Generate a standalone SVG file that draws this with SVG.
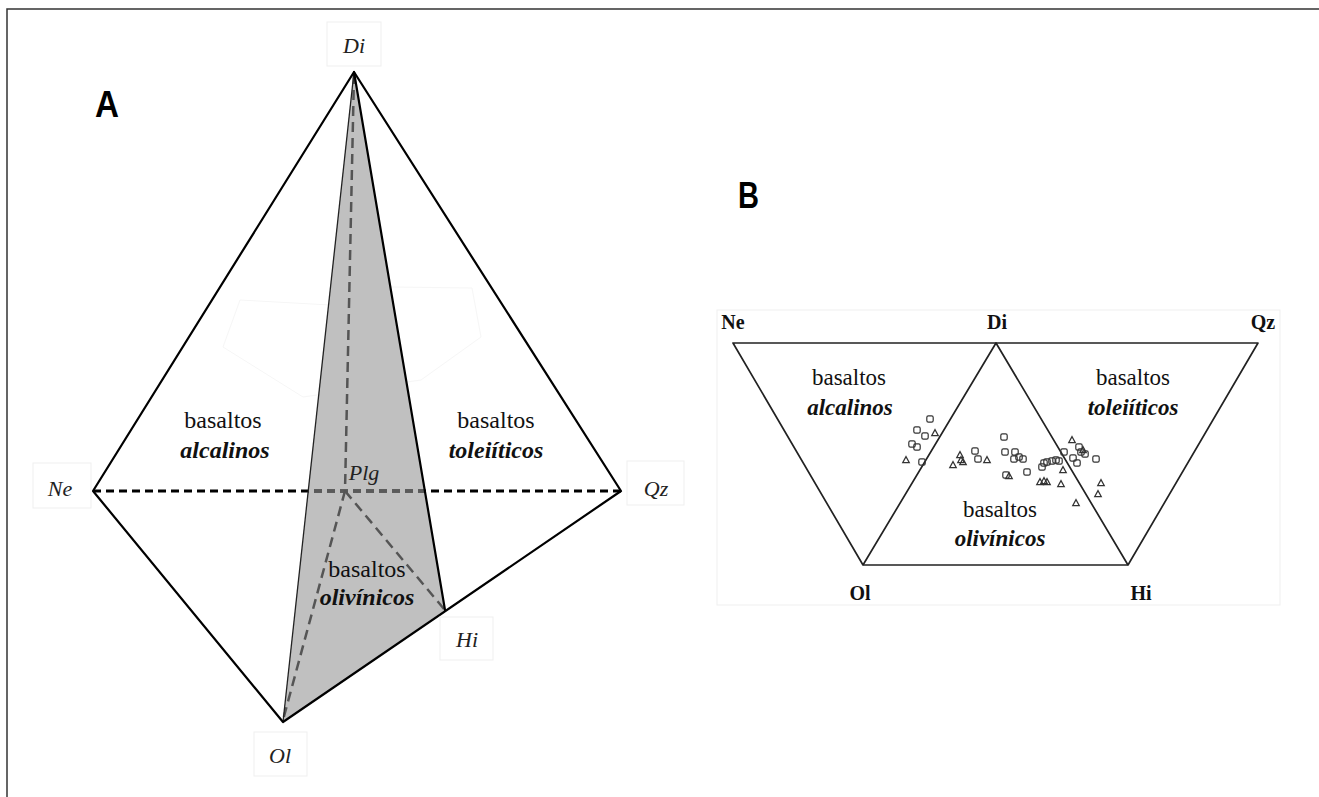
<svg xmlns="http://www.w3.org/2000/svg" xmlns:xlink="http://www.w3.org/1999/xlink" width="1319" height="797" viewBox="0 0 1319 797">
<style>
  .frame{fill:none;stroke:#333;stroke-width:1.5}
  .faint{fill:none;stroke:#efefef;stroke-width:1}
  .edgeA{fill:none;stroke:#000;stroke-width:2.2;stroke-linejoin:round;stroke-linecap:round}
  .edgeThin{fill:none;stroke:#222;stroke-width:1.3}
  .dashK{fill:none;stroke:#000;stroke-width:3;stroke-dasharray:8 5}
  .dashG{fill:none;stroke:#555;stroke-width:2.5;stroke-dasharray:10 6}
  .dashGK{fill:none;stroke:#5a5a5a;stroke-width:3;stroke-dasharray:8 5}
  .edgeB{fill:none;stroke:#222;stroke-width:1.7;stroke-linejoin:round}
  .lblA{font-family:"Liberation Serif","Times New Roman",serif;font-style:italic;font-size:22px;fill:#222;text-anchor:middle}
  .lblB{font-family:"Liberation Serif","Times New Roman",serif;font-weight:bold;font-size:20px;fill:#111;text-anchor:middle}
  .reg{font-family:"Liberation Serif","Times New Roman",serif;fill:#111;text-anchor:middle}
  .bi{font-family:"Liberation Serif","Times New Roman",serif;font-weight:bold;font-style:italic;fill:#111;text-anchor:middle}
  .big{font-family:"Liberation Sans",Arial,sans-serif;font-weight:bold;fill:#000}
  .pt{fill:none;stroke:#333;stroke-width:1.2}
</style>
<defs>
  <rect id="sq" x="-3.2" y="-3.2" width="6.4" height="6.4" rx="1.6" class="pt"/>
  <path id="tri" d="M0,-3.4 L3.3,2.7 L-3.3,2.7 Z" class="pt"/>
  <clipPath id="grayClip">
    <polygon points="354,72 283,722 445,610"/>
  </clipPath>
</defs>

<!-- outer frame (top and left only) -->
<path class="frame" d="M7,797 L7,9 L1319,9"/>

<!-- faint background artefacts -->
<g id="faint-shapes">
  <polygon points="240,300 330,305 391,287 472,288 481,337 421,380 303,397 223,347" fill="none" stroke="#f6f6f6" stroke-width="1"/>
  <rect class="faint" x="717" y="310" width="563" height="295"/>
</g>

<!-- Panel A -->
<g id="panelA">
  <g id="gray-plane">
    <polygon points="354,72 283,722 445,610" fill="#c0c0c0" stroke="none"/>
  </g>
  <g id="connectors-A">
    <path class="dashK" d="M93,491 L621,491"/>
    <path class="dashGK" d="M93,491 L621,491" clip-path="url(#grayClip)"/>
    <path class="dashG" d="M354,74 L345,491"/>
    <path class="dashG" d="M345,491 L283,720"/>
    <path class="dashG" d="M345,491 L444,609"/>
    <path class="edgeThin" d="M354,72 L283,722"/>
    <path class="edgeA" d="M354,72 L445,610" stroke-width="1.8"/>
    <path class="edgeA" d="M354,72 L93,491 L283,722 L621,491 Z"/>
  </g>
  <g id="node-Di"><rect class="faint" x="327" y="22" width="54" height="44"/><text class="lblA" x="354" y="53">Di</text></g>
  <g id="node-Ne"><rect class="faint" x="33" y="463" width="58" height="45"/><text class="lblA" x="60" y="496">Ne</text></g>
  <g id="node-Qz"><rect class="faint" x="627" y="461" width="57" height="44"/><text class="lblA" x="656" y="496">Qz</text></g>
  <g id="node-Ol"><rect class="faint" x="254" y="732" width="53" height="44"/><text class="lblA" x="280" y="763">Ol</text></g>
  <g id="node-Hi"><rect class="faint" x="440" y="617" width="53" height="43"/><text class="lblA" x="467" y="647">Hi</text></g>
  <g id="node-Plg"><text class="lblA" x="364" y="480">Plg</text></g>
  <g id="label-A-alc">
    <text class="reg" x="223" y="428" font-size="24">basaltos</text>
    <text class="bi" x="225" y="458" font-size="24">alcalinos</text>
  </g>
  <g id="label-A-tol">
    <text class="reg" x="496" y="428" font-size="24">basaltos</text>
    <text class="bi" x="496" y="458" font-size="24">toleiíticos</text>
  </g>
  <g id="label-A-oli">
    <text class="reg" x="367" y="577" font-size="24">basaltos</text>
    <text class="bi" x="367" y="605" font-size="24">olivínicos</text>
  </g>
  <text class="big" x="95" y="117" font-size="37" textLength="24" lengthAdjust="spacingAndGlyphs">A</text>
</g>

<!-- Panel B -->
<g id="panelB">
  <g id="connectors-B">
    <path class="edgeB" d="M733,343 L1258,343 L1128,565 L863,565 Z"/>
    <path class="edgeB" d="M863,565 L996,343 L1128,565"/>
  </g>
  <g id="nodeB-Ne"><text class="lblB" x="733" y="329">Ne</text></g>
  <g id="nodeB-Di"><text class="lblB" x="997" y="329">Di</text></g>
  <g id="nodeB-Qz"><text class="lblB" x="1263" y="329">Qz</text></g>
  <g id="nodeB-Ol"><text class="lblB" x="860" y="600">Ol</text></g>
  <g id="nodeB-Hi"><text class="lblB" x="1141" y="600">Hi</text></g>
  <g id="label-B-alc">
    <text class="reg" x="849" y="385" font-size="23">basaltos</text>
    <text class="bi" x="850" y="415" font-size="23">alcalinos</text>
  </g>
  <g id="label-B-tol">
    <text class="reg" x="1133" y="385" font-size="23">basaltos</text>
    <text class="bi" x="1133" y="415" font-size="23">toleiíticos</text>
  </g>
  <g id="label-B-oli">
    <text class="reg" x="1000" y="517" font-size="23">basaltos</text>
    <text class="bi" x="1000" y="546" font-size="23">olivínicos</text>
  </g>
  <g id="data-points">
    <use href="#sq" x="930" y="419"/>
    <use href="#sq" x="917" y="430"/>
    <use href="#sq" x="925" y="436"/>
    <use href="#sq" x="912" y="444"/>
    <use href="#sq" x="917" y="447"/>
    <use href="#sq" x="922" y="462"/>
    <use href="#sq" x="975" y="451"/>
    <use href="#sq" x="978" y="459"/>
    <use href="#sq" x="1004" y="437"/>
    <use href="#sq" x="1005" y="452"/>
    <use href="#sq" x="1015" y="452"/>
    <use href="#sq" x="1014" y="459"/>
    <use href="#sq" x="1019" y="457"/>
    <use href="#sq" x="1023" y="459"/>
    <use href="#sq" x="1027" y="472"/>
    <use href="#sq" x="1006" y="475"/>
    <use href="#sq" x="1042" y="467"/>
    <use href="#sq" x="1044" y="463"/>
    <use href="#sq" x="1047" y="462"/>
    <use href="#sq" x="1052" y="461"/>
    <use href="#sq" x="1056" y="460"/>
    <use href="#sq" x="1059" y="461"/>
    <use href="#sq" x="1064" y="452"/>
    <use href="#sq" x="1073" y="458"/>
    <use href="#sq" x="1077" y="463"/>
    <use href="#sq" x="1079" y="447"/>
    <use href="#sq" x="1081" y="452"/>
    <use href="#sq" x="1085" y="454"/>
    <use href="#sq" x="1096" y="459"/>
    <use href="#tri" x="935" y="433"/>
    <use href="#tri" x="906" y="460"/>
    <use href="#tri" x="953" y="465"/>
    <use href="#tri" x="960" y="455"/>
    <use href="#tri" x="961" y="460"/>
    <use href="#tri" x="963" y="462"/>
    <use href="#tri" x="987" y="460"/>
    <use href="#tri" x="1009" y="476"/>
    <use href="#tri" x="1040" y="482"/>
    <use href="#tri" x="1044" y="481"/>
    <use href="#tri" x="1047" y="482"/>
    <use href="#tri" x="1061" y="484"/>
    <use href="#tri" x="1063" y="470"/>
    <use href="#tri" x="1072" y="440"/>
    <use href="#tri" x="1083" y="450"/>
    <use href="#tri" x="1101" y="483"/>
    <use href="#tri" x="1098" y="494"/>
    <use href="#tri" x="1076" y="503"/>
  </g>
  <text class="big" x="738" y="208" font-size="36" textLength="21" lengthAdjust="spacingAndGlyphs">B</text>
</g>
</svg>
